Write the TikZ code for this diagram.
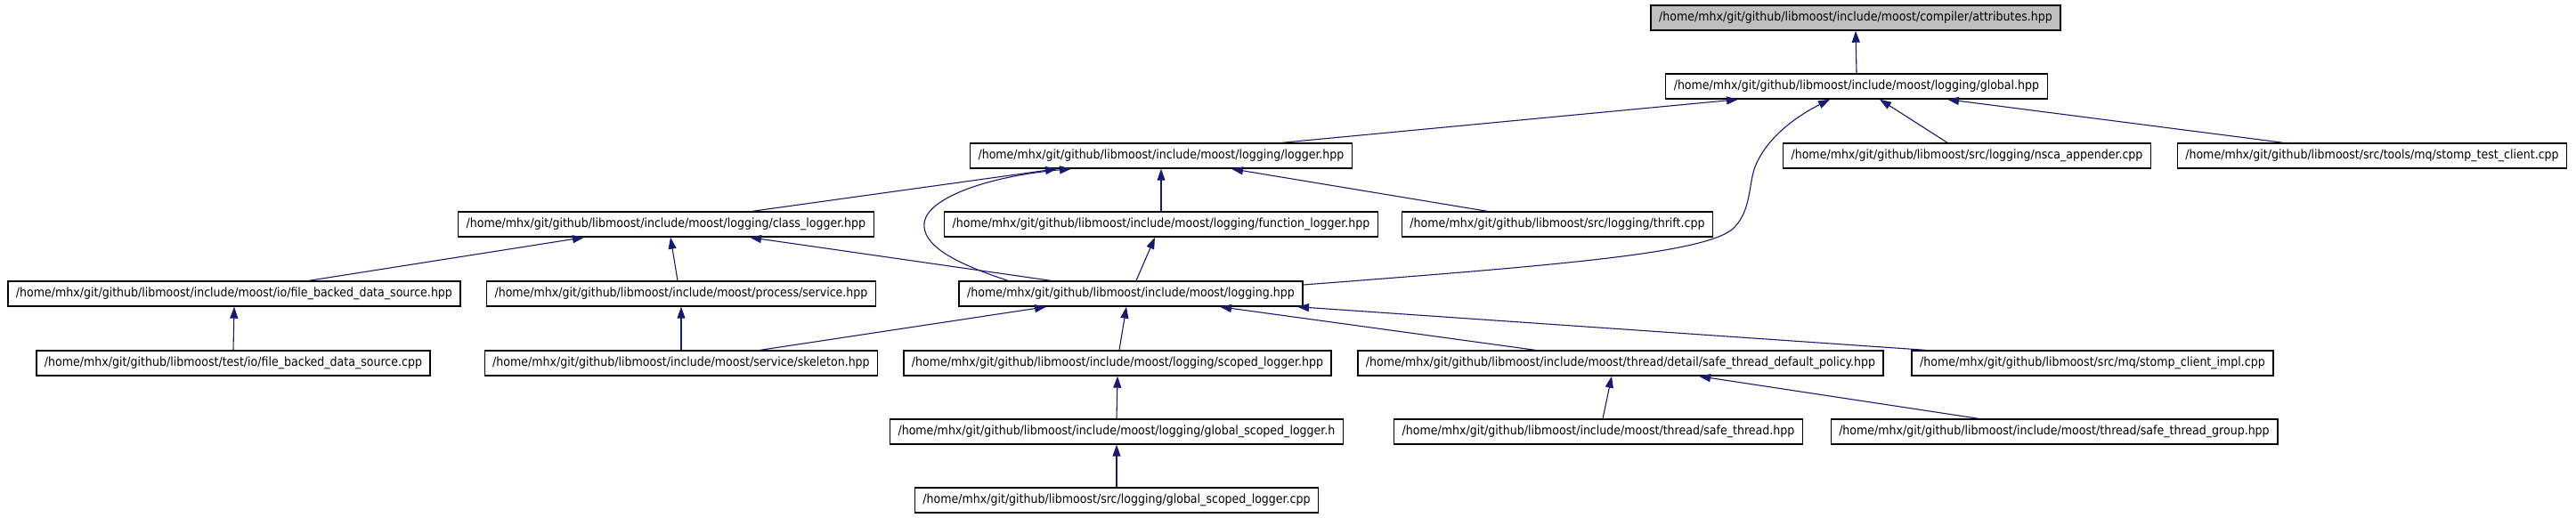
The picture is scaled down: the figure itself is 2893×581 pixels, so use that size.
\documentclass[tikz,border=0pt]{standalone}
\usepackage{fontspec}
\setmainfont{DejaVu Sans Condensed}
\usepackage{xcolor}
\usepackage{tikz}
\usetikzlibrary{arrows.meta}
\definecolor{edgeblue}{HTML}{191970}

\begin{document}
\begin{tikzpicture}[
    x=1pt, y=-1pt,
    box/.style={draw=black, line width=1.4pt, fill=white, minimum height=28pt, inner xsep=9pt, inner ysep=0pt, font=\fontsize{14}{16}\selectfont},
    root/.style={box, fill=black!25},
    arrow/.style={-{Triangle[length=13pt,width=9pt]}, draw=edgeblue, line width=1.1pt}
]
\useasboundingbox[fill=white] (0,0) rectangle (2893,581);

\node[root] (attr) at (2084,20) {/home/mhx/git/github/libmoost/include/moost/compiler/attributes.hpp};
\node[box] (glob) at (2085,97) {/home/mhx/git/github/libmoost/include/moost/logging/global.hpp};

\node[box] (logger) at (1304,175) {/home/mhx/git/github/libmoost/include/moost/logging/logger.hpp};
\node[box] (nsca) at (2209,175) {/home/mhx/git/github/libmoost/src/logging/nsca\_appender.cpp};
\node[box] (stomptest) at (2664,175) {/home/mhx/git/github/libmoost/src/tools/mq/stomp\_test\_client.cpp};

\node[box] (classlog) at (748,252) {/home/mhx/git/github/libmoost/include/moost/logging/class\_logger.hpp};
\node[box] (funclog) at (1304,252) {/home/mhx/git/github/libmoost/include/moost/logging/function\_logger.hpp};
\node[box] (thrift) at (1749,252) {/home/mhx/git/github/libmoost/src/logging/thrift.cpp};

\node[box] (fbdshpp) at (263,330) {/home/mhx/git/github/libmoost/include/moost/io/file\_backed\_data\_source.hpp};
\node[box] (service) at (765,330) {/home/mhx/git/github/libmoost/include/moost/process/service.hpp};
\node[box] (logging) at (1270,330) {/home/mhx/git/github/libmoost/include/moost/logging.hpp};

\node[box] (fbdscpp) at (262,408) {/home/mhx/git/github/libmoost/test/io/file\_backed\_data\_source.cpp};
\node[box] (skeleton) at (765,408) {/home/mhx/git/github/libmoost/include/moost/service/skeleton.hpp};
\node[box] (scoped) at (1255,408) {/home/mhx/git/github/libmoost/include/moost/logging/scoped\_logger.hpp};
\node[box] (stdp) at (1820,408) {/home/mhx/git/github/libmoost/include/moost/thread/detail/safe\_thread\_default\_policy.hpp};
\node[box] (stompimpl) at (2350,408) {/home/mhx/git/github/libmoost/src/mq/stomp\_client\_impl.cpp};

\node[box] (gslh) at (1254,485) {/home/mhx/git/github/libmoost/include/moost/logging/global\_scoped\_logger.h};
\node[box] (safethr) at (1795,485) {/home/mhx/git/github/libmoost/include/moost/thread/safe\_thread.hpp};
\node[box] (safegrp) at (2307,485) {/home/mhx/git/github/libmoost/include/moost/thread/safe\_thread\_group.hpp};

\node[box] (gslcpp) at (1254,562) {/home/mhx/git/github/libmoost/src/logging/global\_scoped\_logger.cpp};

% includes: child -> parent
\draw[arrow] (glob.north) -- (attr.south);
\draw[arrow] ([xshift=136pt]logger.north) -- ([xshift=-133pt]glob.south);
\draw[arrow] ([yshift=10pt]logging.east) .. controls (1750,298) and (1910,285) .. (1945,258)
    .. controls (1968,238) and (1963,205) .. (1972,185)
    .. controls (1985,155) and (2015,132) .. ([xshift=-30pt]glob.south);
\draw[arrow] ([xshift=-22pt]nsca.north) -- ([xshift=26pt]glob.south);
\draw[arrow] ([xshift=-100pt]stomptest.north) -- ([xshift=102pt]glob.south);

\draw[arrow] ([xshift=97pt]classlog.north) -- ([xshift=-117pt]logger.south);
\draw[arrow] ([xshift=-138pt]logging.north) .. controls (1070,295) and (1035,275) .. (1038,250)
    .. controls (1042,222) and (1110,198) .. ([xshift=-101pt]logger.south);
\draw[arrow] (funclog.north) -- (logger.south);
\draw[arrow] ([xshift=-79pt]thrift.north) -- ([xshift=79pt]logger.south);

\draw[arrow] ([xshift=84pt]fbdshpp.north) -- ([xshift=-92pt]classlog.south);
\draw[arrow] ([xshift=-4pt]service.north) -- ([xshift=5pt]classlog.south);
\draw[arrow] ([xshift=-90pt]logging.north) -- ([xshift=94pt]classlog.south);
\draw[arrow] ([xshift=6pt]logging.north) -- ([xshift=-7pt]funclog.south);

\draw[arrow] (fbdscpp.north) -- (fbdshpp.south);
\draw[arrow] (skeleton.north) -- (service.south);
\draw[arrow] ([xshift=89pt]skeleton.north) -- ([xshift=-95pt]logging.south);
\draw[arrow] ([xshift=2pt]scoped.north) -- ([xshift=-5pt]logging.south);
\draw[arrow] ([xshift=-96pt]stdp.north) -- ([xshift=100pt]logging.south);
\draw[arrow] ([xshift=-188pt]stompimpl.north) -- ([xshift=187pt]logging.south);

\draw[arrow] (gslh.north) -- (scoped.south);
\draw[arrow] (gslcpp.north) -- (gslh.south);
\draw[arrow] ([xshift=5pt]safethr.north) -- ([xshift=-10pt]stdp.south);
\draw[arrow] ([xshift=-85pt]safegrp.north) -- ([xshift=88pt]stdp.south);
\end{tikzpicture}
\end{document}
